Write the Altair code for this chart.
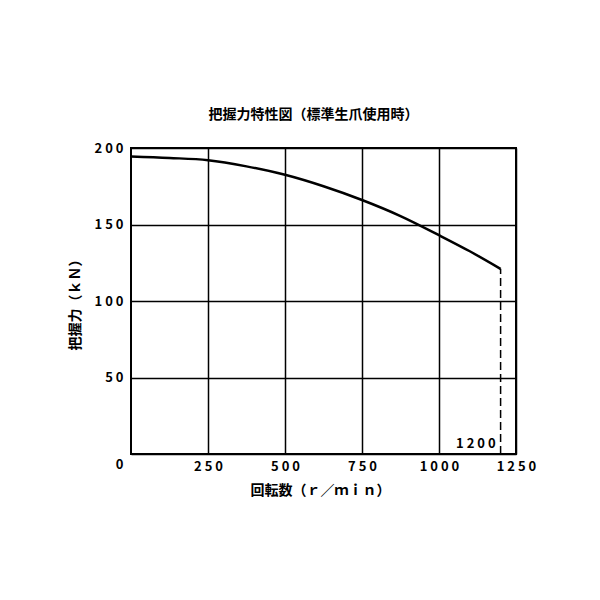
import altair as alt
import pandas as pd

rpm = [0, 125, 250, 375, 500, 625, 750, 875, 1000, 1100, 1200]
force = [194.5, 193.5, 192, 188, 182.5, 175, 166, 155.5, 143, 132.5, 121]
max_rpm = [1200]
max_force = [121]
max_label = ["1 2 0 0"]

x_ticks = [250, 500, 750, 1000, 1250]
y_ticks = [0, 50, 100, 150, 200]

FONT = "Noto Sans CJK JP"
df = pd.DataFrame({"rpm": rpm, "force": force})
dm = pd.DataFrame({"rpm": max_rpm, "force": max_force, "zero": [0], "label": max_label})

spaced = "join(split(datum.label, ''), ' ')"

x_enc = alt.X("rpm:Q", scale=alt.Scale(domain=[0, 1250], nice=False),
              axis=alt.Axis(values=x_ticks, format="d", labelExpr=spaced,
                            title="回転数（ｒ／ｍｉｎ）", titleFont=FONT, titleFontSize=14,
                            titleFontWeight="bold", titleX=189, titleY=36,
                            titleBaseline="middle", titleAlign="center",
                            labelFont=FONT, labelFontSize=13, labelFontWeight="bold",
                            labelColor="black", ticks=False, labelPadding=6,
                            grid=True, gridColor="black", gridWidth=1.5,
                            domain=False, labelFlush=False))
y_enc = alt.Y("force:Q", scale=alt.Scale(domain=[0, 200], nice=False),
              axis=alt.Axis(values=y_ticks, format="d", labelExpr=spaced,
                            title="把握力（ｋＮ）", titleFont=FONT, titleFontSize=14,
                            titleFontWeight="bold", titleX=-56, titleY=153,
                            titleAngle=270, titleBaseline="middle", titleAlign="center",
                            labelFont=FONT, labelFontSize=13, labelFontWeight="bold",
                            labelColor="black", ticks=False, labelPadding=8,
                            labelOffset={"condition": {"test": "datum.value == 0", "value": 10}, "value": 0},
                            grid=True, gridColor="black", gridWidth=1.5,
                            domain=False, labelFlush=False))

curve = alt.Chart(df).mark_line(color="black", strokeWidth=2.5, interpolate="monotone").encode(x=x_enc, y=y_enc)

dash = alt.Chart(dm).mark_rule(color="black", strokeWidth=1.5, strokeDash=[8, 4]).encode(
    x="rpm:Q", y="zero:Q", y2="force:Q")

lbl = alt.Chart(dm).mark_text(align="right", baseline="bottom", dx=-5, dy=-3,
                              font=FONT, fontSize=13, fontWeight="bold", color="black").encode(
    x="rpm:Q", y="zero:Q", text="label:N")

chart = alt.layer(curve, dash, lbl).properties(
    width=385, height=306,
    autosize=alt.AutoSizeParams(type="none"),
    padding={"left": 123, "top": 140, "right": 70, "bottom": 130},
    background="white",
    title=alt.Title("把握力特性図（標準生爪使用時）", font=FONT, fontSize=14,
                    fontWeight="bold", color="black", offset=20, anchor="middle", dx=-10),
).configure_view(stroke="black", strokeWidth=2)

chart.save("out.html", embed_options={"renderer": "svg", "actions": False})
